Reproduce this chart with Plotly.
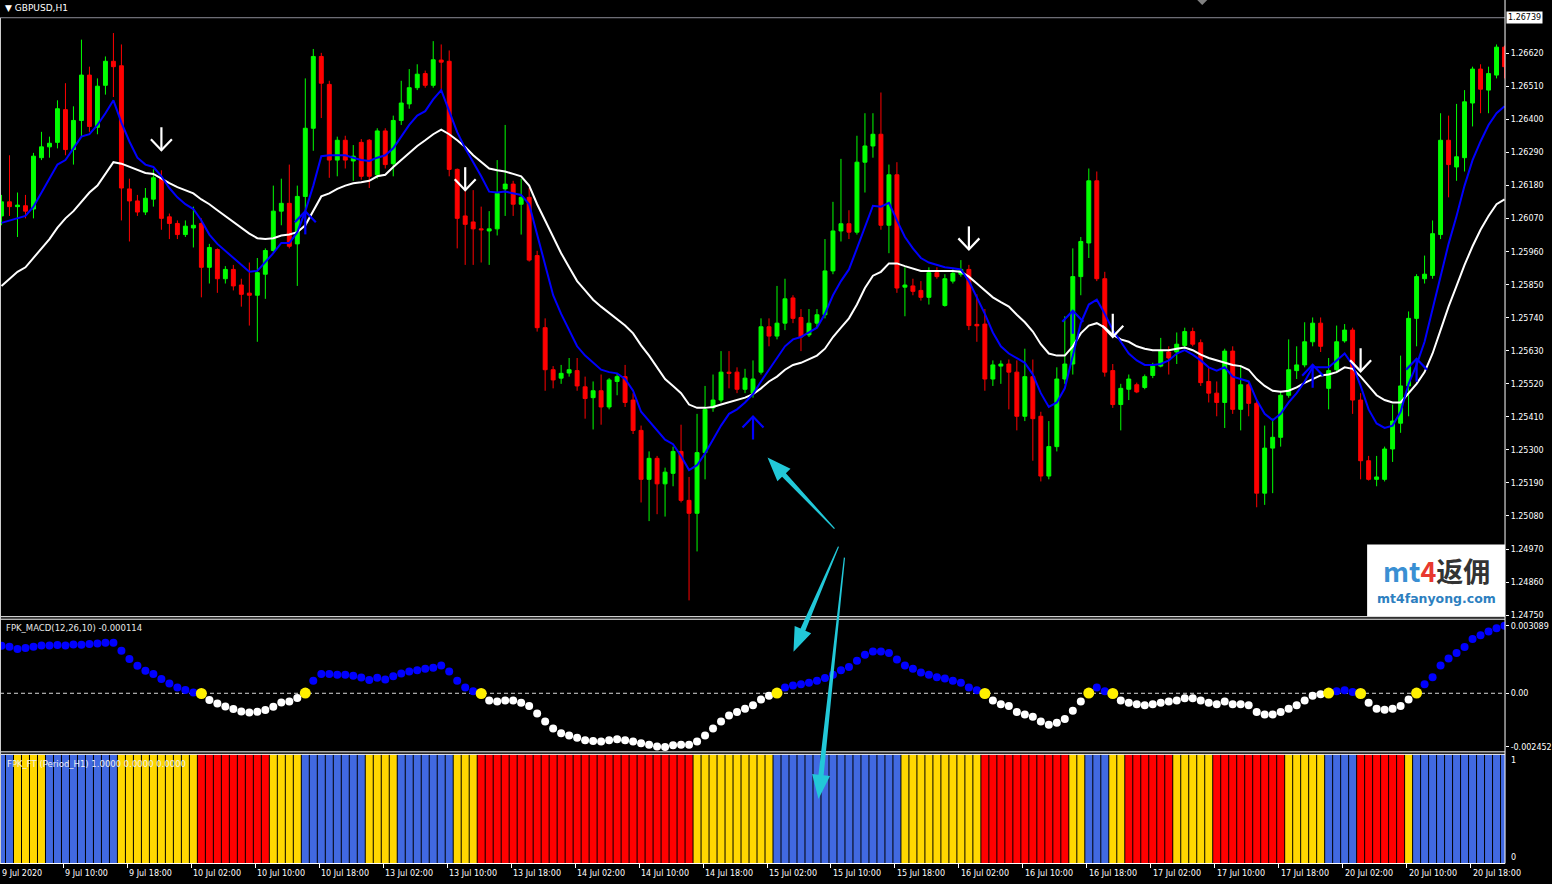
import math
import plotly.graph_objects as go

W, H = 1552, 884      # reference geometry (pixels) used for all placements
FIG_H = 888           # rendered height (capture compresses it back to 884)

# ---------------- DATA (GBPUSD H1, 9 Jul 02:00 -> 20 Jul 22:00) ----------------
open_ = [
    1.26079, 1.26126, 1.26110, 1.26113, 1.26102, 1.26273, 1.26309, 1.26324, 1.26433, 1.26300,
    1.26397, 1.26548, 1.26374, 1.26514, 1.26594, 1.26579, 1.26169, 1.26129, 1.26092, 1.26135,
    1.26203, 1.26076, 1.26054, 1.26017, 1.26039, 1.26054, 1.25908, 1.25967, 1.25870, 1.25901,
    1.25849, 1.25822, 1.25815, 1.25885, 1.25964, 1.26095, 1.26121, 1.25986, 1.26144, 1.26371,
    1.26610, 1.26517, 1.26265, 1.26331, 1.26262, 1.26324, 1.26331, 1.26216, 1.26362, 1.26253,
    1.26397, 1.26452, 1.26506, 1.26553, 1.26514, 1.26598, 1.26594, 1.26234, 1.26079, 1.26059,
    1.26036, 1.26029, 1.26036, 1.26169, 1.26185, 1.26118, 1.26141, 1.25947, 1.25707, 1.25567,
    1.25539, 1.25556, 1.25564, 1.25510, 1.25474, 1.25497, 1.25443, 1.25528, 1.25544, 1.25466,
    1.25365, 1.25202, 1.25272, 1.25187, 1.25222, 1.25295, 1.25132, 1.25089, 1.25291, 1.25440,
    1.25466, 1.25559, 1.25559, 1.25502, 1.25489, 1.25559, 1.25710, 1.25679, 1.25722, 1.25806,
    1.25741, 1.25683, 1.25722, 1.25750, 1.25896, 1.26029, 1.26053, 1.26025, 1.26258, 1.26312,
    1.26351, 1.26048, 1.26216, 1.25842, 1.25846, 1.25831, 1.25808, 1.25890, 1.25781, 1.25862,
    1.25885, 1.25901, 1.25718, 1.25719, 1.25536, 1.25579, 1.25586, 1.25559, 1.25412, 1.25544,
    1.25412, 1.25213, 1.25311, 1.25536, 1.25586, 1.25877, 1.25989, 1.26196, 1.25870, 1.25564,
    1.25451, 1.25502, 1.25517, 1.25508, 1.25548, 1.25579, 1.25626, 1.25626, 1.25648, 1.25694,
    1.25657, 1.25528, 1.25489, 1.25458, 1.25629, 1.25435, 1.25517, 1.25455, 1.25156, 1.25306,
    1.25342, 1.25482, 1.25564, 1.25583, 1.25660, 1.25722, 1.25505, 1.25567, 1.25663, 1.25699,
    1.25466, 1.25264, 1.25202, 1.25202, 1.25303, 1.25389, 1.25513, 1.25738, 1.25870, 1.25881,
    1.26017, 1.26331, 1.26242, 1.26273, 1.26455, 1.26568, 1.26498, 1.26548, 1.26641,
]
high = [
    1.26149, 1.26281, 1.26157, 1.26149, 1.26289, 1.26359, 1.26343, 1.26464, 1.26521, 1.26444,
    1.26666, 1.26576, 1.26537, 1.26610, 1.26688, 1.26650, 1.26203, 1.26149, 1.26172, 1.26234,
    1.26231, 1.26087, 1.26064, 1.26064, 1.26110, 1.26071, 1.25986, 1.25971, 1.25912, 1.25916,
    1.25870, 1.25924, 1.25939, 1.25971, 1.26180, 1.26203, 1.26250, 1.26180, 1.26537, 1.26635,
    1.26622, 1.26529, 1.26343, 1.26346, 1.26315, 1.26335, 1.26335, 1.26371, 1.26371, 1.26413,
    1.26529, 1.26568, 1.26584, 1.26563, 1.26661, 1.26650, 1.26630, 1.26237, 1.26165, 1.26165,
    1.26110, 1.26095, 1.26265, 1.26382, 1.26196, 1.26203, 1.26172, 1.25963, 1.25738, 1.25579,
    1.25583, 1.25606, 1.25606, 1.25544, 1.25528, 1.25551, 1.25539, 1.25555, 1.25583, 1.25489,
    1.25381, 1.25295, 1.25280, 1.25241, 1.25311, 1.25384, 1.25210, 1.25420, 1.25513, 1.25551,
    1.25629, 1.25629, 1.25575, 1.25570, 1.25598, 1.25738, 1.25738, 1.25846, 1.25870, 1.25815,
    1.25769, 1.25769, 1.25769, 1.26002, 1.26126, 1.26269, 1.26098, 1.26346, 1.26421, 1.26421,
    1.26490, 1.26250, 1.26258, 1.25908, 1.25870, 1.25862, 1.25908, 1.25908, 1.25885, 1.25901,
    1.25932, 1.25916, 1.25818, 1.25769, 1.25598, 1.25598, 1.25601, 1.25598, 1.25637, 1.25601,
    1.25427, 1.25396, 1.25575, 1.25745, 1.25971, 1.26009, 1.26237, 1.26227, 1.25893, 1.25586,
    1.25520, 1.25551, 1.25524, 1.25551, 1.25590, 1.25673, 1.25645, 1.25691, 1.25707, 1.25707,
    1.25668, 1.25575, 1.25528, 1.25637, 1.25645, 1.25583, 1.25528, 1.25466, 1.25381, 1.25404,
    1.25497, 1.25668, 1.25645, 1.25725, 1.25741, 1.25741, 1.25606, 1.25714, 1.25719, 1.25707,
    1.25489, 1.25280, 1.25280, 1.25311, 1.25451, 1.25614, 1.25761, 1.25885, 1.25947, 1.26064,
    1.26421, 1.26413, 1.26452, 1.26498, 1.26576, 1.26584, 1.26576, 1.26650, 1.26646,
]
low = [
    1.26048, 1.26079, 1.26009, 1.26071, 1.26071, 1.26265, 1.26273, 1.26304, 1.26281, 1.26250,
    1.26343, 1.26359, 1.26351, 1.26483, 1.26475, 1.26064, 1.25994, 1.26079, 1.26082, 1.26110,
    1.26033, 1.26002, 1.26002, 1.26009, 1.25974, 1.25808, 1.25854, 1.25823, 1.25854, 1.25831,
    1.25777, 1.25714, 1.25660, 1.25803, 1.25955, 1.26048, 1.25971, 1.25846, 1.26064, 1.26296,
    1.26405, 1.26206, 1.26211, 1.26237, 1.26196, 1.26200, 1.26172, 1.26203, 1.26237, 1.26211,
    1.26382, 1.26436, 1.26498, 1.26506, 1.26506, 1.26498, 1.26211, 1.25971, 1.25916, 1.25916,
    1.25924, 1.25916, 1.26014, 1.26079, 1.26079, 1.26017, 1.25927, 1.25694, 1.25497, 1.25505,
    1.25520, 1.25544, 1.25497, 1.25404, 1.25368, 1.25384, 1.25435, 1.25482, 1.25443, 1.25353,
    1.25125, 1.25063, 1.25086, 1.25078, 1.25179, 1.25125, 1.24799, 1.24962, 1.25202, 1.25427,
    1.25458, 1.25505, 1.25489, 1.25489, 1.25474, 1.25551, 1.25645, 1.25668, 1.25699, 1.25722,
    1.25629, 1.25676, 1.25707, 1.25738, 1.25885, 1.25994, 1.26002, 1.26017, 1.26157, 1.26273,
    1.26033, 1.25955, 1.25823, 1.25745, 1.25815, 1.25797, 1.25784, 1.25870, 1.25777, 1.25854,
    1.25877, 1.25699, 1.25660, 1.25497, 1.25513, 1.25520, 1.25435, 1.25365, 1.25396, 1.25264,
    1.25195, 1.25202, 1.25295, 1.25520, 1.25551, 1.25815, 1.25939, 1.25862, 1.25544, 1.25440,
    1.25365, 1.25466, 1.25489, 1.25502, 1.25539, 1.25575, 1.25551, 1.25586, 1.25637, 1.25645,
    1.25513, 1.25458, 1.25412, 1.25373, 1.25420, 1.25365, 1.25412, 1.25109, 1.25117, 1.25156,
    1.25311, 1.25474, 1.25536, 1.25575, 1.25645, 1.25626, 1.25435, 1.25559, 1.25657, 1.25420,
    1.25202, 1.25198, 1.25179, 1.25195, 1.25260, 1.25357, 1.25412, 1.25645, 1.25854, 1.25870,
    1.26002, 1.26141, 1.26196, 1.26227, 1.26377, 1.26421, 1.26421, 1.26537, 1.26537,
]
close = [
    1.26126, 1.26110, 1.26115, 1.26095, 1.26278, 1.26309, 1.26321, 1.26436, 1.26300, 1.26397,
    1.26548, 1.26377, 1.26511, 1.26594, 1.26576, 1.26172, 1.26129, 1.26092, 1.26138, 1.26206,
    1.26071, 1.26054, 1.26017, 1.26045, 1.26048, 1.25908, 1.25974, 1.25870, 1.25901, 1.25846,
    1.25818, 1.25815, 1.25890, 1.25964, 1.26095, 1.26121, 1.25978, 1.26144, 1.26371, 1.26610,
    1.26521, 1.26265, 1.26331, 1.26265, 1.26278, 1.26211, 1.26211, 1.26362, 1.26250, 1.26397,
    1.26455, 1.26506, 1.26551, 1.26514, 1.26599, 1.26591, 1.26234, 1.26071, 1.26051, 1.26036,
    1.26033, 1.26036, 1.26154, 1.26185, 1.26118, 1.26141, 1.25932, 1.25707, 1.25567, 1.25533,
    1.25555, 1.25567, 1.25513, 1.25471, 1.25497, 1.25443, 1.25533, 1.25544, 1.25458, 1.25365,
    1.25202, 1.25272, 1.25187, 1.25226, 1.25295, 1.25132, 1.25089, 1.25291, 1.25435, 1.25466,
    1.25559, 1.25555, 1.25502, 1.25539, 1.25536, 1.25710, 1.25679, 1.25722, 1.25803, 1.25738,
    1.25676, 1.25722, 1.25750, 1.25896, 1.26029, 1.26053, 1.26025, 1.26258, 1.26312, 1.26351,
    1.26048, 1.26216, 1.25839, 1.25849, 1.25828, 1.25808, 1.25890, 1.25877, 1.25870, 1.25888,
    1.25901, 1.25714, 1.25713, 1.25536, 1.25583, 1.25586, 1.25559, 1.25412, 1.25544, 1.25404,
    1.25213, 1.25311, 1.25536, 1.25586, 1.25877, 1.25994, 1.26196, 1.25870, 1.25559, 1.25451,
    1.25505, 1.25536, 1.25493, 1.25544, 1.25579, 1.25629, 1.25606, 1.25652, 1.25694, 1.25652,
    1.25524, 1.25489, 1.25458, 1.25629, 1.25435, 1.25517, 1.25455, 1.25156, 1.25306, 1.25342,
    1.25482, 1.25567, 1.25583, 1.25660, 1.25722, 1.25645, 1.25564, 1.25660, 1.25699, 1.25466,
    1.25264, 1.25202, 1.25210, 1.25303, 1.25396, 1.25513, 1.25738, 1.25877, 1.25885, 1.26020,
    1.26331, 1.26250, 1.26276, 1.26459, 1.26568, 1.26501, 1.26553, 1.26641, 1.26576,
]
ma_blue = [
    1.26056, 1.26064, 1.26071, 1.26079, 1.26110, 1.26157, 1.26203, 1.26250, 1.26265, 1.26304,
    1.26343, 1.26351, 1.26382, 1.26421, 1.26464, 1.26390, 1.26327, 1.26273, 1.26250, 1.26242,
    1.26211, 1.26172, 1.26141, 1.26118, 1.26102, 1.26064, 1.26017, 1.25986, 1.25963, 1.25939,
    1.25916, 1.25893, 1.25896, 1.25924, 1.25955, 1.25989, 1.25989, 1.26025, 1.26095, 1.26180,
    1.26278, 1.26281, 1.26281, 1.26281, 1.26273, 1.26265, 1.26262, 1.26273, 1.26281, 1.26304,
    1.26343, 1.26382, 1.26413, 1.26428, 1.26467, 1.26498, 1.26428, 1.26358, 1.26304, 1.26258,
    1.26211, 1.26160, 1.26157, 1.26160, 1.26154, 1.26149, 1.26118, 1.26017, 1.25908, 1.25815,
    1.25753, 1.25699, 1.25645, 1.25614, 1.25590, 1.25567, 1.25559, 1.25555, 1.25536, 1.25497,
    1.25427, 1.25396, 1.25365, 1.25334, 1.25319, 1.25280, 1.25233, 1.25249, 1.25288, 1.25334,
    1.25381, 1.25420, 1.25435, 1.25458, 1.25486, 1.25528, 1.25567, 1.25606, 1.25645, 1.25668,
    1.25676, 1.25691, 1.25707, 1.25753, 1.25815, 1.25862, 1.25901, 1.25971, 1.26040, 1.26113,
    1.26110, 1.26123, 1.26064, 1.26009, 1.25971, 1.25939, 1.25924, 1.25916, 1.25908, 1.25905,
    1.25901, 1.25862, 1.25808, 1.25753, 1.25691, 1.25645, 1.25621, 1.25606, 1.25590, 1.25551,
    1.25489, 1.25443, 1.25458, 1.25505, 1.25614, 1.25722, 1.25784, 1.25800, 1.25753, 1.25699,
    1.25660, 1.25621, 1.25598, 1.25583, 1.25583, 1.25586, 1.25598, 1.25621, 1.25632, 1.25617,
    1.25598, 1.25575, 1.25564, 1.25575, 1.25544, 1.25536, 1.25528, 1.25466, 1.25420, 1.25399,
    1.25420, 1.25458, 1.25489, 1.25528, 1.25575, 1.25575, 1.25575, 1.25598, 1.25621, 1.25583,
    1.25513, 1.25435, 1.25388, 1.25373, 1.25381, 1.25427, 1.25520, 1.25583, 1.25660, 1.25769,
    1.25877, 1.25986, 1.26079, 1.26180, 1.26265, 1.26327, 1.26382, 1.26421, 1.26444,
]
ma_white = [
    1.25846, 1.25870, 1.25893, 1.25908, 1.25939, 1.25971, 1.26002, 1.26040, 1.26071, 1.26095,
    1.26126, 1.26157, 1.26180, 1.26219, 1.26258, 1.26253, 1.26242, 1.26231, 1.26222, 1.26219,
    1.26203, 1.26188, 1.26175, 1.26165, 1.26154, 1.26134, 1.26118, 1.26098, 1.26079, 1.26060,
    1.26040, 1.26020, 1.26005, 1.26002, 1.26005, 1.26014, 1.26017, 1.26025, 1.26048, 1.26095,
    1.26144, 1.26154, 1.26169, 1.26180, 1.26188, 1.26191, 1.26196, 1.26211, 1.26216, 1.26242,
    1.26265, 1.26289, 1.26312, 1.26331, 1.26351, 1.26366, 1.26351, 1.26331, 1.26309, 1.26281,
    1.26258, 1.26237, 1.26231, 1.26227, 1.26219, 1.26211, 1.26180, 1.26118, 1.26064, 1.26009,
    1.25955, 1.25908, 1.25862, 1.25831, 1.25800, 1.25777, 1.25756, 1.25738, 1.25714, 1.25688,
    1.25648, 1.25614, 1.25575, 1.25536, 1.25513, 1.25489, 1.25451, 1.25440, 1.25440, 1.25443,
    1.25451, 1.25458, 1.25466, 1.25474, 1.25486, 1.25505, 1.25528, 1.25544, 1.25567, 1.25583,
    1.25590, 1.25601, 1.25614, 1.25637, 1.25676, 1.25707, 1.25738, 1.25784, 1.25839, 1.25880,
    1.25893, 1.25921, 1.25921, 1.25912, 1.25905, 1.25896, 1.25896, 1.25896, 1.25896, 1.25896,
    1.25893, 1.25877, 1.25854, 1.25831, 1.25808, 1.25792, 1.25777, 1.25750, 1.25725, 1.25694,
    1.25652, 1.25621, 1.25614, 1.25614, 1.25645, 1.25688, 1.25714, 1.25722, 1.25707, 1.25683,
    1.25668, 1.25660, 1.25645, 1.25637, 1.25632, 1.25632, 1.25632, 1.25637, 1.25641, 1.25632,
    1.25617, 1.25606, 1.25598, 1.25590, 1.25583, 1.25579, 1.25567, 1.25536, 1.25513, 1.25497,
    1.25494, 1.25497, 1.25508, 1.25523, 1.25536, 1.25548, 1.25551, 1.25559, 1.25575, 1.25570,
    1.25544, 1.25513, 1.25482, 1.25466, 1.25458, 1.25458, 1.25489, 1.25520, 1.25559, 1.25621,
    1.25699, 1.25777, 1.25846, 1.25916, 1.25978, 1.26033, 1.26079, 1.26118, 1.26134,
]
# signal arrows on the price chart (bar index, price level at arrow centre)
sell_idx = [20, 58, 121, 139, 170]
sell_px = [1.26336, 1.26203, 1.26006, 1.25715, 1.25600]
buy_idx = [38, 94, 134, 164, 177]
buy_px = [1.26056, 1.25373, 1.25725, 1.25545, 1.25565]

# FPK_MACD(12,26,10) dots
macd = [
    0.002176, 0.002130, 0.002024, 0.002070, 0.002130, 0.002189, 0.002189, 0.002208, 0.002189, 0.002235,
    0.002221, 0.002253, 0.002281, 0.002313, 0.002313, 0.001947, 0.001566, 0.001260, 0.001031, 0.000879,
    0.000650, 0.000449, 0.000266, 0.000147, 0.000037, -0.000010, -0.000311, -0.000467, -0.000605, -0.000724,
    -0.000834, -0.000879, -0.000847, -0.000769, -0.000618, -0.000421, -0.000376, -0.000220, 0.000010, 0.000573,
    0.000879, 0.000879, 0.000847, 0.000847, 0.000802, 0.000724, 0.000605, 0.000710, 0.000627, 0.000779,
    0.000907, 0.000994, 0.001058, 0.001122, 0.001163, 0.001269, 0.000994, 0.000568, 0.000266, 0.000096,
    -0.000010, -0.000330, -0.000371, -0.000330, -0.000330, -0.000435, -0.000586, -0.000925, -0.001287, -0.001608,
    -0.001823, -0.001928, -0.002038, -0.002143, -0.002185, -0.002208, -0.002143, -0.002102, -0.002143, -0.002208,
    -0.002290, -0.002354, -0.002440, -0.002452, -0.002377, -0.002354, -0.002354, -0.002208, -0.001928, -0.001608,
    -0.001287, -0.001012, -0.000861, -0.000710, -0.000545, -0.000289, -0.000115, 0.000010, 0.000266, 0.000353,
    0.000417, 0.000481, 0.000573, 0.000696, 0.000847, 0.001058, 0.001205, 0.001489, 0.001763, 0.001910,
    0.001910, 0.001846, 0.001548, 0.001269, 0.001122, 0.000948, 0.000847, 0.000737, 0.000673, 0.000573,
    0.000481, 0.000266, 0.000137, -0.000010, -0.000330, -0.000499, -0.000586, -0.000861, -0.000966, -0.001076,
    -0.001287, -0.001438, -0.001351, -0.001182, -0.000802, -0.000371, 0.000010, 0.000266, 0.000096, -0.000010,
    -0.000330, -0.000435, -0.000499, -0.000545, -0.000499, -0.000435, -0.000371, -0.000330, -0.000224, -0.000224,
    -0.000330, -0.000435, -0.000499, -0.000371, -0.000499, -0.000499, -0.000545, -0.000861, -0.000966, -0.000966,
    -0.000861, -0.000710, -0.000545, -0.000330, -0.000115, -0.000040, 0.000010, 0.000096, 0.000137, 0.000055,
    -0.000010, -0.000435, -0.000710, -0.000756, -0.000710, -0.000586, -0.000289, 0.000010, 0.000417, 0.000737,
    0.001269, 0.001589, 0.001846, 0.002121, 0.002487, 0.002656, 0.002826, 0.002977, 0.003089,
]
macd_cross = [25, 38, 60, 97, 123, 136, 139, 166, 170, 177]

# FPK_FT (Period_H1) state per bar: B = blue, Y = yellow, R = red (all bars at level 1)
ft_runs = [("B", 2), ("Y", 4), ("B", 9), ("Y", 10), ("R", 9), ("Y", 4), ("B", 8), ("Y", 4),
           ("B", 7), ("Y", 3), ("R", 27), ("Y", 10), ("B", 16), ("Y", 10), ("R", 11), ("Y", 2),
           ("B", 3), ("Y", 2), ("R", 6), ("Y", 5), ("R", 9), ("Y", 5), ("B", 4), ("R", 6),
           ("Y", 1), ("B", 12)]
ft_level = 1.0

time_labels = ["9 Jul 2020", "9 Jul 10:00", "9 Jul 18:00", "10 Jul 02:00", "10 Jul 10:00",
               "10 Jul 18:00", "13 Jul 02:00", "13 Jul 10:00", "13 Jul 18:00", "14 Jul 02:00",
               "14 Jul 10:00", "14 Jul 18:00", "15 Jul 02:00", "15 Jul 10:00", "15 Jul 18:00",
               "16 Jul 02:00", "16 Jul 10:00", "16 Jul 18:00", "17 Jul 02:00", "17 Jul 10:00",
               "17 Jul 18:00", "20 Jul 02:00", "20 Jul 10:00", "20 Jul 18:00"]
time_label_idx = [0, 8, 16, 24, 32, 40, 48, 56, 64, 72, 80, 88, 96, 104, 112, 120, 128, 136,
                  144, 152, 160, 168, 176, 184]
price_ticks = [1.24750, 1.24860, 1.24970, 1.25080, 1.25190, 1.25300, 1.25410, 1.25520, 1.25630,
               1.25740, 1.25850, 1.25960, 1.26070, 1.26180, 1.26290, 1.26400, 1.26510, 1.26620]
top_price = 1.26739
macd_ticks = [0.003089, 0.0, -0.002452]
macd_tick_text = ["0.003089", "0.00", "-0.002452"]

# ---------------- FIGURE ----------------
N = len(close)
idx = list(range(N))


def fx(p):
    return p / W


def fy(p):
    return 1 - p / H


XR = 1506
xdom = [0, XR / W]
xrange_ = [-0.1875, 188.0625]
YMAIN = [1.247447, 1.26798]          # price range of main pane (0..616 px)
PPX = (YMAIN[1] - YMAIN[0]) / 616.0  # price per pixel
BPX = 1 / 8.0                        # bars per pixel
FONT = "DejaVu Sans"
tickfont = dict(family=FONT, size=8, color="white")

fig = go.Figure()

fig.add_trace(go.Candlestick(
    x=idx, open=open_, high=high, low=low, close=close,
    increasing=dict(line=dict(color="#00FF00", width=1), fillcolor="#00FF00"),
    decreasing=dict(line=dict(color="#FF0000", width=1), fillcolor="#FF0000"),
    whiskerwidth=0, xaxis="x", yaxis="y", hoverinfo="skip", showlegend=False))

fig.add_trace(go.Scatter(x=idx, y=ma_white, mode="lines", line=dict(color="#FFFFFF", width=2),
                         xaxis="x", yaxis="y", hoverinfo="skip"))
fig.add_trace(go.Scatter(x=idx, y=ma_blue, mode="lines", line=dict(color="#0000FF", width=2),
                         xaxis="x", yaxis="y", hoverinfo="skip"))


def arrow_xy(ks, ps, down):
    """Build an open-headed arrow glyph (shaft + V head) around each signal point."""
    xs, ys = [], []
    half = 11.5 * PPX
    hh = 11 * PPX
    hw = 10.5 * BPX
    for k, p in zip(ks, ps):
        if down:
            tip, tail, back = p - half, p + half, p - half + hh
        else:
            tip, tail, back = p + half, p - half, p + half - hh
        xs += [k, k, None, k - hw, k, k + hw, None]
        ys += [tail, tip, None, back, tip, back, None]
    return xs, ys


sx, sy = arrow_xy(sell_idx, sell_px, True)
fig.add_trace(go.Scatter(x=sx, y=sy, mode="lines", line=dict(color="white", width=2.2),
                         xaxis="x", yaxis="y", hoverinfo="skip", connectgaps=False))
bx_, by_ = arrow_xy(buy_idx, buy_px, False)
fig.add_trace(go.Scatter(x=bx_, y=by_, mode="lines", line=dict(color="#0000FF", width=2.2),
                         xaxis="x", yaxis="y", hoverinfo="skip", connectgaps=False))

# MACD dots
reg_x, reg_y, reg_c = [], [], []
for i, v in enumerate(macd):
    if i in macd_cross:
        continue
    reg_x.append(i)
    reg_y.append(v)
    reg_c.append("#0000FF" if v > 0 else "#FFFFFF")
fig.add_trace(go.Scatter(x=reg_x, y=reg_y, mode="markers",
                         marker=dict(color=reg_c, size=8, line=dict(width=0)),
                         xaxis="x2", yaxis="y2", hoverinfo="skip"))
fig.add_trace(go.Scatter(x=macd_cross, y=[macd[i] for i in macd_cross], mode="markers",
                         marker=dict(color="#FFF000", size=11, line=dict(width=0)),
                         xaxis="x2", yaxis="y2", hoverinfo="skip"))

# FT histogram
ft_state = []
for code, cnt in ft_runs:
    ft_state.extend([code] * cnt)
ft_cmap = {"B": "#4169E1", "Y": "#FFD700", "R": "#FF0000"}
fig.add_trace(go.Bar(x=idx, y=[ft_level] * N, marker=dict(color=[ft_cmap[s] for s in ft_state],
                     line=dict(width=0)), width=0.875, xaxis="x3", yaxis="y3", hoverinfo="skip"))

# ---------------- AXES ----------------
common_x = dict(domain=xdom, range=xrange_, showgrid=False, zeroline=False, fixedrange=True)
fig.update_layout(
    width=W, height=FIG_H, margin=dict(l=0, r=0, t=0, b=0),
    paper_bgcolor="black", plot_bgcolor="black", showlegend=False, boxgap=0.3,
    xaxis=dict(**common_x, anchor="y", showticklabels=False, ticks="", rangeslider=dict(visible=False)),
    xaxis2=dict(**common_x, anchor="y2", showticklabels=False, ticks=""),
    xaxis3=dict(**common_x, anchor="y3", showticklabels=False, ticks="outside", ticklen=4,
                tickcolor="white", tickwidth=1, tickvals=[i - 0.25 for i in time_label_idx],
                showline=True, linecolor="white", linewidth=1),
    yaxis=dict(domain=[fy(616), 1], range=YMAIN, side="right", anchor="x",
               tickvals=price_ticks, ticktext=[f"{p:.5f}" for p in price_ticks],
               ticks="outside", ticklen=3, tickcolor="white", tickfont=tickfont,
               showgrid=False, zeroline=False, fixedrange=True),
    yaxis2=dict(domain=[fy(751), fy(618.5)], range=[-0.0026793, 0.0033892], side="right", anchor="x2",
                tickvals=macd_ticks, ticktext=macd_tick_text, ticks="outside", ticklen=3,
                tickcolor="white", tickfont=tickfont, showgrid=False, zeroline=False, fixedrange=True),
    yaxis3=dict(domain=[fy(862.5), fy(753.5)], range=[0, 1], side="right", anchor="x3",
                showticklabels=False, ticks="", showgrid=False, zeroline=False, fixedrange=True),
)

shapes = []


def hline(py, x0=0, x1=XR, color="white", width=1):
    shapes.append(dict(type="line", xref="paper", yref="paper", x0=fx(x0), x1=fx(x1),
                       y0=fy(py), y1=fy(py), line=dict(color=color, width=width)))


hline(616)
hline(618.5)
hline(751)
hline(753.5)
shapes.append(dict(type="line", xref="paper", yref="paper", x0=fx(XR), x1=fx(XR), y0=fy(0), y1=fy(862.5),
                   line=dict(color="white", width=1)))
shapes.append(dict(type="line", xref="paper", yref="paper", x0=fx(0.5), x1=fx(0.5), y0=fy(18), y1=fy(862.5),
                   line=dict(color="#d0d0d0", width=1)))
# top price line
shapes.append(dict(type="line", xref="paper", yref="y", x0=0, x1=fx(XR), y0=top_price, y1=top_price,
                   line=dict(color="#8c8c96", width=1), layer="below"))
# MACD zero level
shapes.append(dict(type="line", xref="paper", yref="y2", x0=0, x1=fx(XR), y0=0, y1=0,
                   line=dict(color="#d8d8d8", width=1, dash="4px,3px"), layer="below"))
# chart shift marker
shapes.append(dict(type="path", xref="paper", yref="paper",
                   path=f"M {fx(1198)},{fy(0)} L {fx(1208)},{fy(0)} L {fx(1203)},{fy(5)} Z",
                   fillcolor="#808080", line=dict(width=0)))
# watermark box
shapes.append(dict(type="rect", xref="paper", yref="paper", x0=fx(1368), x1=fx(XR), y0=fy(615.5), y1=fy(544),
                   fillcolor="white", line=dict(width=0)))


def arrow_path(tail, tip, head_len, head_half, w_tail, w_head):
    tx, ty = tail
    px_, py_ = tip
    dx, dy = px_ - tx, py_ - ty
    L = math.hypot(dx, dy)
    ux, uy = dx / L, dy / L
    nx, ny = -uy, ux
    bx, by = px_ - ux * head_len, py_ - uy * head_len
    pts = [(tx + nx * w_tail, ty + ny * w_tail), (bx + nx * w_head, by + ny * w_head),
           (bx + nx * head_half, by + ny * head_half), (px_, py_),
           (bx - nx * head_half, by - ny * head_half), (bx - nx * w_head, by - ny * w_head),
           (tx - nx * w_tail, ty - ny * w_tail)]
    return "M " + " L ".join(f"{fx(x):.5f},{fy(y):.5f}" for x, y in pts) + " Z"


CYAN = "#22C8D8"
for tail, tip in [((835, 528), (768, 457)), ((839, 546), (794, 651)), ((845, 557), (819, 798))]:
    shapes.append(dict(type="path", xref="paper", yref="paper", path=arrow_path(tail, tip, 24, 9, 0.6, 2.6),
                       fillcolor=CYAN, line=dict(width=0)))

fig.update_layout(shapes=shapes)

ann = []
ann.append(dict(text="▼ GBPUSD,H1", x=fx(3), y=fy(8), xref="paper", yref="paper", xanchor="left",
                yanchor="middle", showarrow=False, font=dict(family=FONT, size=9, color="white")))
ann.append(dict(text="FPK_MACD(12,26,10) -0.000114", x=fx(4), y=fy(627), xref="paper", yref="paper",
                xanchor="left", yanchor="middle", showarrow=False, font=dict(family=FONT, size=8.5, color="#e8e8e8")))
ann.append(dict(text="FPK_FT (Period_H1) 1.0000 0.0000 0.0000", x=fx(5), y=fy(763), xref="paper", yref="paper",
                xanchor="left", yanchor="middle", showarrow=False, font=dict(family=FONT, size=8.5, color="#f0f0f0")))
ann.append(dict(text=f"{top_price:.5f}", x=fx(1507), y=top_price, xref="paper", yref="y", xanchor="left",
                yanchor="middle", showarrow=False, bgcolor="white", borderpad=1,
                font=dict(family=FONT, size=8, color="black")))
ann.append(dict(text="1", x=fx(1510), y=fy(760), xref="paper", yref="paper", xanchor="left", yanchor="middle",
                showarrow=False, font=tickfont))
ann.append(dict(text="0", x=fx(1510), y=fy(857), xref="paper", yref="paper", xanchor="left", yanchor="middle",
                showarrow=False, font=tickfont))
for n, (k, lab) in enumerate(zip(time_label_idx, time_labels)):
    if n == 0:
        ann.append(dict(text=lab, x=fx(0), y=fy(873), xref="paper", yref="paper", xanchor="left",
                        yanchor="middle", showarrow=False, font=tickfont))
    else:
        ann.append(dict(text=lab, x=k - 0.25, y=fy(873), xref="x3", yref="paper", xanchor="left",
                        yanchor="middle", showarrow=False, font=tickfont))
# watermark text
ann.append(dict(text="<b><span style='color:#3a8fd3'>mt</span><span style='color:#e8382f'>4</span>"
                     "<span style='color:#333333'>返佣</span></b>",
                x=fx(1437), y=fy(570), xref="paper", yref="paper", xanchor="center", yanchor="middle",
                showarrow=False, font=dict(family="Noto Sans CJK SC", size=27, color="#333333")))
ann.append(dict(text="<b>mt4fanyong.com</b>", x=fx(1437), y=fy(598), xref="paper", yref="paper",
                xanchor="center", yanchor="middle", showarrow=False,
                font=dict(family=FONT, size=12.5, color="#2d7fc0")))
fig.update_layout(annotations=ann)

fig.write_html("out.html", config={"displayModeBar": False},
               post_script="document.body.style.margin='0px';document.body.style.overflow='hidden';")
